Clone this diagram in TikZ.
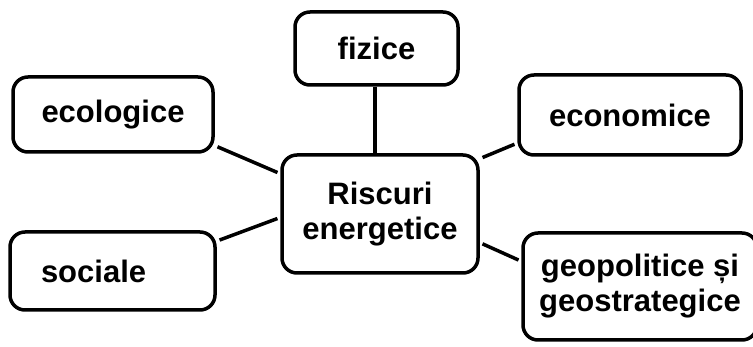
\documentclass[tikz,border=0pt]{standalone}
\usepackage{fontspec}
\setmainfont{Liberation Sans}
\begin{document}
\begin{tikzpicture}[x=1pt, y=-1pt,
    riskbox/.style={draw, line width=3.5pt, rounded corners=15pt, align=center,
      inner sep=0pt, font=\bfseries\fontsize{31}{35}\selectfont},
    link/.style={line width=3.5pt, shorten >=3pt, shorten <=3pt}]
  \clip (0, 0) rectangle (753, 347);
  \fill[white] (0, 0) rectangle (753, 347);
  \node[riskbox, minimum width=196pt, minimum height=118pt] (risc) at (380, 214) {Riscuri\\energetice};
  \node[riskbox, minimum width=163pt, minimum height=73pt] (fiz) at (376.5, 48.5) {fizice};
  \node[riskbox, minimum width=200pt, minimum height=75pt] (eco) at (113, 114.5) {ecologice};
  \node[riskbox, minimum width=222pt, minimum height=80pt] (econ) at (630, 115) {economice};
  \node[riskbox, minimum width=205pt, minimum height=78pt, text width=143pt, inner xsep=31pt, align=left] (soc) at (112.5, 271) {sociale};
  \node[riskbox, minimum width=234pt, minimum height=107pt] (geo) at (640, 286.5) {geopolitice și\\geostrategice};
  \draw[line width=3.5pt] (fiz.south -| 375, 0) -- (risc.north -| 375, 0);
  \draw[link] (eco.-17) -- (risc.158);
  \draw[link] (econ.-166) -- (risc.29);
  \draw[link] (soc.16) -- (risc.-178);
  \draw[link] (geo.168) -- (risc.-16);
\end{tikzpicture}
\end{document}
